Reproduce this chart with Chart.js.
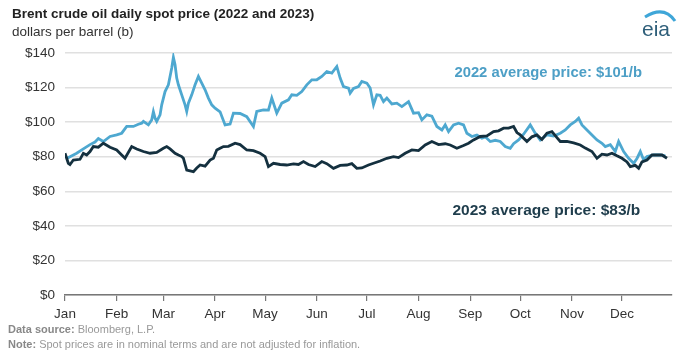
<!DOCTYPE html>
<html>
<head>
<meta charset="utf-8">
<script src="https://cdn.jsdelivr.net/npm/chart.js@4.4.0/dist/chart.umd.min.js"></script>
<style>
  html, body { margin: 0; padding: 0; background: #fff; }
  #wrap { position: relative; width: 686px; height: 352px; overflow: hidden; }
  #oilChart { position: absolute; left: 0; top: 0; }
  .txt { position: absolute; font-family: "Liberation Sans", Arial, sans-serif; white-space: nowrap; }
  #title { left: 12px; top: 6px; font-size: 13.5px; font-weight: bold; color: #222; }
  #units { left: 12px; top: 24px; font-size: 13.5px; color: #333; }
  #source { left: 8px; top: 323px; font-size: 11px; color: #999; }
  #note { left: 8px; top: 338px; font-size: 11px; color: #999; }
  #source b, #note b { color: #888; }
</style>
</head>
<body>
<div id="wrap">
  <canvas id="oilChart" width="686" height="352"></canvas>
  <div id="title" class="txt">Brent crude oil daily spot price (2022 and 2023)</div>
  <div id="units" class="txt">dollars per barrel (b)</div>
  <div id="source" class="txt"><b>Data source:</b> Bloomberg, L.P.</div>
  <div id="note" class="txt"><b>Note:</b> Spot prices are in nominal terms and are not adjusted for inflation.</div>
</div>
<script>
// -------------------------------------------------------------
// Datos (dia del anio -> dolares por barril)
// -------------------------------------------------------------
const monthNames = ["Jan", "Feb", "Mar", "Apr", "May", "Jun", "Jul", "Aug", "Sep", "Oct", "Nov", "Dec"];
const monthStarts = [0, 31, 59, 90, 120, 151, 181, 212, 243, 273, 304, 334];
const yTicks = [0, 20, 40, 60, 80, 100, 120, 140];

const days2022 = [1, 7, 11, 15, 18, 20, 23, 27, 31, 34, 37, 41, 44, 46, 47, 50, 52, 53, 54, 55,
  57, 58, 60, 62, 64, 65, 66, 67, 68, 70, 72, 73, 74, 76, 78, 80, 82, 84, 86, 88,
  90, 93, 96, 99, 101, 105, 109, 113, 115, 119, 122, 124, 127, 130, 134, 136, 139, 142, 145, 148,
  151, 154, 157, 160, 163, 165, 167, 170, 171, 173, 176, 178, 181, 183, 185, 187, 189, 191, 193, 196,
  199, 202, 206, 209, 212, 214, 217, 220, 223, 226, 228, 230, 233, 236, 239, 241, 244, 247, 250, 252,
  255, 258, 261, 264, 267, 269, 272, 275, 279, 282, 285, 289, 293, 297, 300, 303, 306, 308, 310, 313,
  316, 319, 322, 324, 327, 330, 332, 335, 338, 341, 343, 345, 347, 349, 353, 357, 360];
const brent2022 = [79, 82, 84.5, 87, 88.5, 90.5, 88.8, 91.7, 92.6, 93.6, 97.5, 97.5, 98.8, 99.4, 100.4, 98.4, 101.3, 106, 102.3, 100.4,
  104.2, 110, 117.7, 121.6, 131.3, 137.5, 133.2, 125.5, 121.6, 115.8, 110, 106.2, 111, 115.8, 121.6, 126.4, 122.6, 118.7, 113.9, 110,
  108.1, 106, 98.4, 98.9, 105.2, 105, 103.2, 97.5, 106.2, 107.1, 107, 113.9, 105.2, 111, 112.9, 115.8, 115.5, 117.7, 121.6, 124.5,
  124.5, 126.4, 129.3, 128.4, 132.2, 125.5, 120.6, 119.7, 116.8, 119.5, 120.6, 123.5, 122.6, 119.7, 110, 115.8, 115.5, 111.9, 113.9, 110.5,
  111, 109, 111.9, 105.2, 105.5, 101.3, 104.2, 103.5, 97.5, 95.5, 98.4, 94.5, 98.4, 99.4, 98.4, 93.6, 91.7, 92.5, 90.7, 91.5,
  88.8, 89.5, 88.8, 85.9, 84.9, 87.5, 89.7, 93, 98.4, 93.6, 89.7, 92.6, 92, 93.6, 95.5, 98.4, 100.4, 102.3, 98.4, 95.5,
  92.6, 89.7, 87.8, 85.9, 87, 83, 88.8, 83, 79.1, 76.2, 79, 83, 78.1, 80.1, 81, 81, 80.5];

const days2023 = [0, 2, 3, 5, 9, 11, 13, 15, 17, 20, 23, 27, 31, 34, 36, 40, 43, 47, 51, 55,
  59, 61, 63, 66, 68, 70, 71, 73, 77, 79, 81, 84, 87, 89, 91, 93, 95, 98, 102, 105,
  109, 113, 117, 120, 122, 125, 129, 133, 137, 140, 143, 146, 150, 154, 157, 161, 165, 169, 172, 175,
  178, 182, 185, 189, 193, 197, 200, 204, 208, 212, 216, 220, 224, 228, 231, 235, 239, 242, 245, 249,
  253, 257, 260, 263, 266, 269, 271, 273, 277, 280, 283, 286, 289, 292, 295, 297, 301, 305, 309, 312,
  316, 319, 322, 325, 328, 331, 334, 337, 339, 342, 344, 346, 349, 352, 355, 358, 361];
const brent2023 = [82, 76.2, 75.5, 78.1, 78.5, 82, 81, 83, 85.9, 85.5, 87.8, 85.5, 83.9, 81, 79.1, 85.9, 84.5, 83, 82, 82.5,
  84.9, 85.9, 84.5, 82, 81, 80.1, 79.1, 72.3, 71.4, 73.5, 75.2, 74.5, 78.1, 79.1, 83.9, 84.9, 85.9, 86, 87.8, 87,
  83.9, 83.5, 82, 80.1, 74.3, 76.2, 75.5, 75.2, 75.8, 75.5, 77.2, 75.5, 74.3, 77.2, 76, 73.3, 75, 75.2, 76, 73.3,
  73.5, 75.2, 76.2, 77.5, 79.1, 80, 79.5, 82, 83.9, 83.5, 86.8, 88.8, 87, 87.5, 86.8, 84.9, 86.5, 87.8, 89.7, 91.7,
  92, 94.5, 95, 96.5, 96.5, 97.5, 94, 92.6, 88.8, 91.5, 92.6, 90, 93.6, 94.5, 91, 88.8, 88.8, 88, 86.8, 85,
  83, 79.1, 81.5, 81, 82, 80.5, 79.1, 77, 74.3, 75, 73.3, 77, 78.1, 81, 81, 81, 79.1];

const avgLabels = [
  { text: "2022 average price: $101/b", day: 346, value: 128.5, color: "#4d9fc6", size: 14.8 },
  { text: "2023 average price: $83/b", day: 345, value: 48.5, color: "#1f3d4c", size: 15.5 },
];

const toPoints = (xs, ys) => xs.map((d, i) => ({ x: d, y: ys[i] }));

// Textos de promedio + logo eia
const overlayPlugin = {
  id: "overlay",
  afterDatasetsDraw(chart) {
    const { ctx, scales } = chart;
    ctx.save();
    ctx.textAlign = "right";
    ctx.textBaseline = "middle";
    avgLabels.forEach((a) => {
      ctx.font = `bold ${a.size}px 'Liberation Sans', Arial, sans-serif`;
      ctx.fillStyle = a.color;
      ctx.fillText(a.text, scales.x.getPixelForValue(a.day), scales.y.getPixelForValue(a.value));
    });
    // logo
    ctx.textAlign = "left";
    ctx.textBaseline = "alphabetic";
    ctx.font = "21px 'Liberation Sans', Arial, sans-serif";
    ctx.fillStyle = "#2f5f7a";
    ctx.fillText("eia", 642, 36);
    ctx.strokeStyle = "#3fa6d8";
    ctx.lineWidth = 3;
    ctx.beginPath();
    ctx.moveTo(645, 17);
    ctx.quadraticCurveTo(664, 5, 675, 21);
    ctx.stroke();
    ctx.restore();
  },
};

new Chart(document.getElementById("oilChart"), {
  type: "line",
  data: {
    datasets: [
      {
        label: "2023",
        data: toPoints(days2023, brent2023),
        borderColor: "#14303f",
        borderWidth: 2.8,
        pointRadius: 0,
        tension: 0,
        order: 1,
      },
      {
        label: "2022",
        data: toPoints(days2022, brent2022),
        borderColor: "#4ea8d0",
        borderWidth: 2.8,
        pointRadius: 0,
        tension: 0,
        order: 2,
      },
    ],
  },
  options: {
    responsive: false,
    animation: false,
    layout: { padding: { left: 0, right: 14, top: 53, bottom: 0 } },
    plugins: { legend: { display: false }, tooltip: { enabled: false } },
    scales: {
      x: {
        type: "linear",
        min: 0,
        max: 364,
        afterBuildTicks(scale) {
          scale.ticks = monthStarts.map((v) => ({ value: v }));
        },
        afterFit(scale) { scale.height = 57; },
        ticks: {
          autoSkip: false,
          maxRotation: 0,
          padding: 5,
          color: "#333",
          font: { family: "'Liberation Sans', Arial, sans-serif", size: 13.5 },
          callback: (v) => monthNames[monthStarts.indexOf(v)],
        },
        grid: { drawOnChartArea: false, drawTicks: true, tickLength: 6, color: "#777", lineWidth: 1.2 },
        border: { display: true, color: "#777", width: 1.5 },
      },
      y: {
        min: 0,
        max: 140,
        afterBuildTicks(scale) {
          scale.ticks = yTicks.map((v) => ({ value: v }));
        },
        afterFit(scale) { scale.width = 65; },
        ticks: {
          padding: 10,
          color: "#333",
          font: { family: "'Liberation Sans', Arial, sans-serif", size: 13.5 },
          callback: (v) => "$" + v,
        },
        grid: { color: "#e0e0e0", lineWidth: 1.5, drawTicks: false },
        border: { display: false },
      },
    },
  },
  plugins: [overlayPlugin],
});
</script>
</body>
</html>
